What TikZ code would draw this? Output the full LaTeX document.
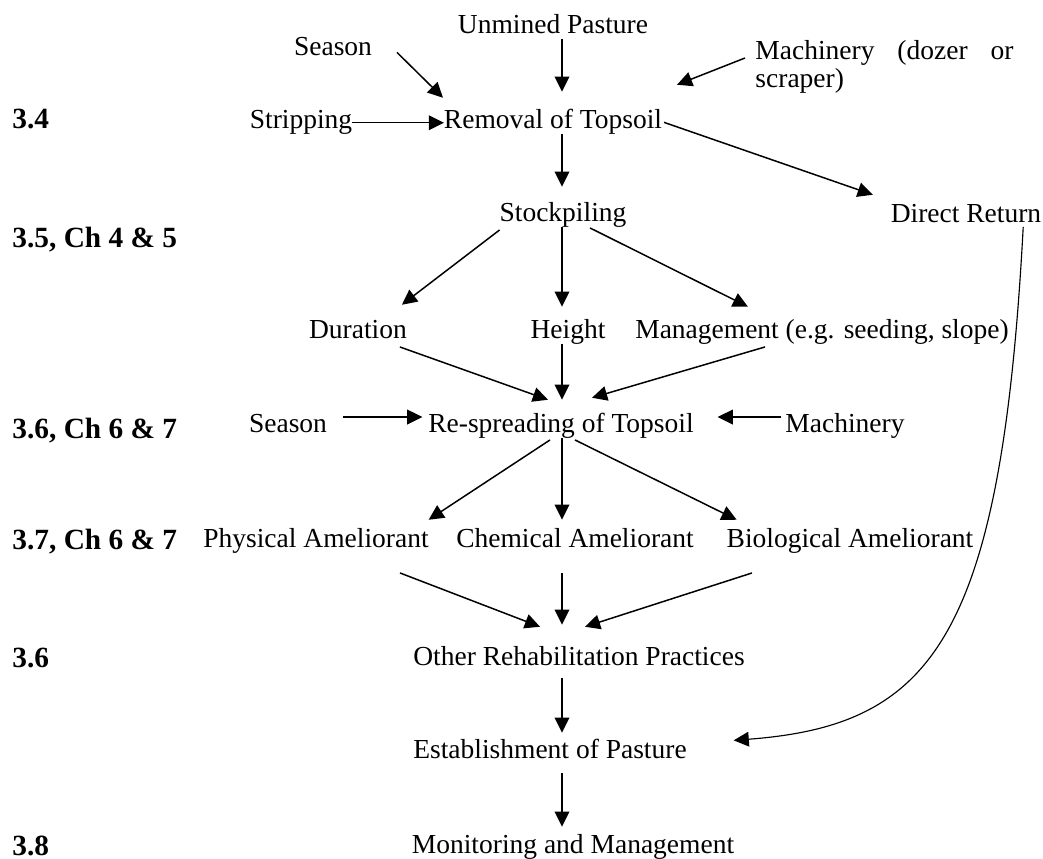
\documentclass[tikz,border=0pt]{standalone}
\usepackage{fontspec}
\setmainfont{Liberation Serif}
\usetikzlibrary{arrows.meta,calc}

\begin{document}
\begin{tikzpicture}[x=0.4364pt,y=-0.4364pt,
    >={Triangle[length=6.6pt,width=6.4pt]},
    arr/.style={->,line width=0.65pt},
    stage/.style={anchor=base,inner sep=0pt,outer sep=0pt,
      text height=8.4pt,text depth=2.6pt,font=\fontsize{12}{12}\selectfont},
    chap/.style={anchor=base west,inner sep=0pt,
      font=\fontsize{12.8}{14}\selectfont\bfseries}]

  \useasboundingbox (0,0) rectangle (1043,859);
  \coordinate (spine) at (562,0);

  % section numbers
  \node[chap] (s34) at (12,128) {3.4};
  \node[chap] (s35) at (12,247) {3.5, Ch 4 \& 5};
  \node[chap] (s36a) at (12,438) {3.6, Ch 6 \& 7};
  \node[chap] (s37) at (12,549) {3.7, Ch 6 \& 7};
  \node[chap] (s36b) at (12,667) {3.6};
  \node[chap] (s38) at (12,855) {3.8};

  % stages
  \node[stage] (unmined) at (553,33) {Unmined Pasture};
  \node[stage] (seasonA) at (333,55) {Season};
  \node[inner sep=0pt,anchor=north west,text width=112.6pt,align=justify,
    font=\fontsize{12}{12.4}\selectfont] (machA) at (755,40)
    {Machinery (dozer or scraper)};
  \node[stage] (stripping) at (301,128) {Stripping};
  \node[stage] (removal) at (553,128) {Removal of Topsoil};
  \node[stage] (stock) at (563,221) {Stockpiling};
  \node[stage] (direct) at (966,222) {Direct Return};
  \node[stage] (duration) at (358,338) {Duration};
  \node[stage] (height) at (568,338) {Height};
  \node[stage] (manage) at (822,338) {Management (e.g. seeding, slope)};
  \node[stage] (seasonB) at (288,432) {Season};
  \node[stage] (respread) at (561,432) {Re-spreading of Topsoil};
  \node[stage] (machB) at (845,432) {Machinery};
  \node[stage] (phys) at (316,547) {Physical Ameliorant};
  \node[stage] (chem) at (575,547) {Chemical Ameliorant};
  \node[stage] (bio) at (850,547) {Biological Ameliorant};
  \node[stage] (other) at (579,665) {Other Rehabilitation Practices};
  \node[stage] (estab) at (550,758) {Establishment of Pasture};
  \node[stage] (monitor) at (573,853) {Monitoring and Management};

  % removal
  \draw[arr] (unmined.south -| spine) -- ($(removal.north -| spine)+(0,-17)$);
  \draw[arr] ($(seasonA.east)+(25,4)$) -- ($(removal.north west)+(-1,-11)$);
  \draw[arr] ($(machA.north west)+(-10,18)$) -- ($(removal.north east)+(15,-24)$);
  \draw[arr] (stripping.mid east) -- (removal.mid west);
  \draw[arr] (removal.south -| spine) -- ($(stock.north -| spine)+(0,-15)$);
  \draw[arr] ($(removal.east)+(2,1)$) -- ($(direct.north west)+(-18,-8)$);

  % stockpiling
  \draw[arr] ($(stock.south west)+(0,3)$) -- ($(duration.north east)+(-5,-14)$);
  \draw[arr] (stock.south -| spine) -- ($(height.north -| spine)+(0,-12)$);
  \draw[arr] ($(stock.south)+(27,1)$) -- ($(manage.north)+(-74,-12)$);
  \draw[arr] ($(duration.south east)+(-7,3)$) -- ($(respread.north)+(-13,-13)$);
  \draw[arr] (height.south -| spine) -- ($(respread.north -| spine)+(0,-13)$);
  \draw[arr] ($(manage.south)+(-57,3)$) -- ($(respread.north)+(31,-15)$);

  % re-spreading
  \draw[arr] ($(seasonB.base east)+(16,-15)$) -- ($(respread.base west)+(-6,-15)$);
  \draw[arr] ($(machB.base west)+(-4,-15)$) -- ($(respread.base east)+(24,-15)$);
  \draw[arr] ($(respread.south)+(-11,2)$) -- ($(phys.north east)+(0,-8)$);
  \draw[arr] (respread.south -| spine) -- ($(chem.north -| spine)+(0,-8)$);
  \draw[arr] ($(respread.south)+(14,2)$) -- ($(bio.north west)+(10,-8)$);

  % ameliorants
  \draw[arr] ($(phys.south)+(84,20)$) -- ($(other.north)+(-39,-19)$);
  \draw[arr] ($(chem.south -| spine)+(0,20)$) -- ($(other.north -| spine)+(0,-21)$);
  \draw[arr] ($(bio.south)+(-98,20)$) -- ($(other.north)+(6,-19)$);
  \draw[arr] ($(other.south -| spine)+(0,7)$) -- ($(estab.north -| spine)+(0,-6)$);
  \draw[arr] ($(estab.south -| spine)+(0,9)$) -- ($(monitor.north -| spine)+(0,-7)$);

  % direct return
  \draw[arr,line width=0.5pt] ($(direct.south east)+(-18,-1)$)
    .. controls +(-22,413) and +(198,-15) .. ($(estab.east)+(47,-11)$);

\end{tikzpicture}
\end{document}
